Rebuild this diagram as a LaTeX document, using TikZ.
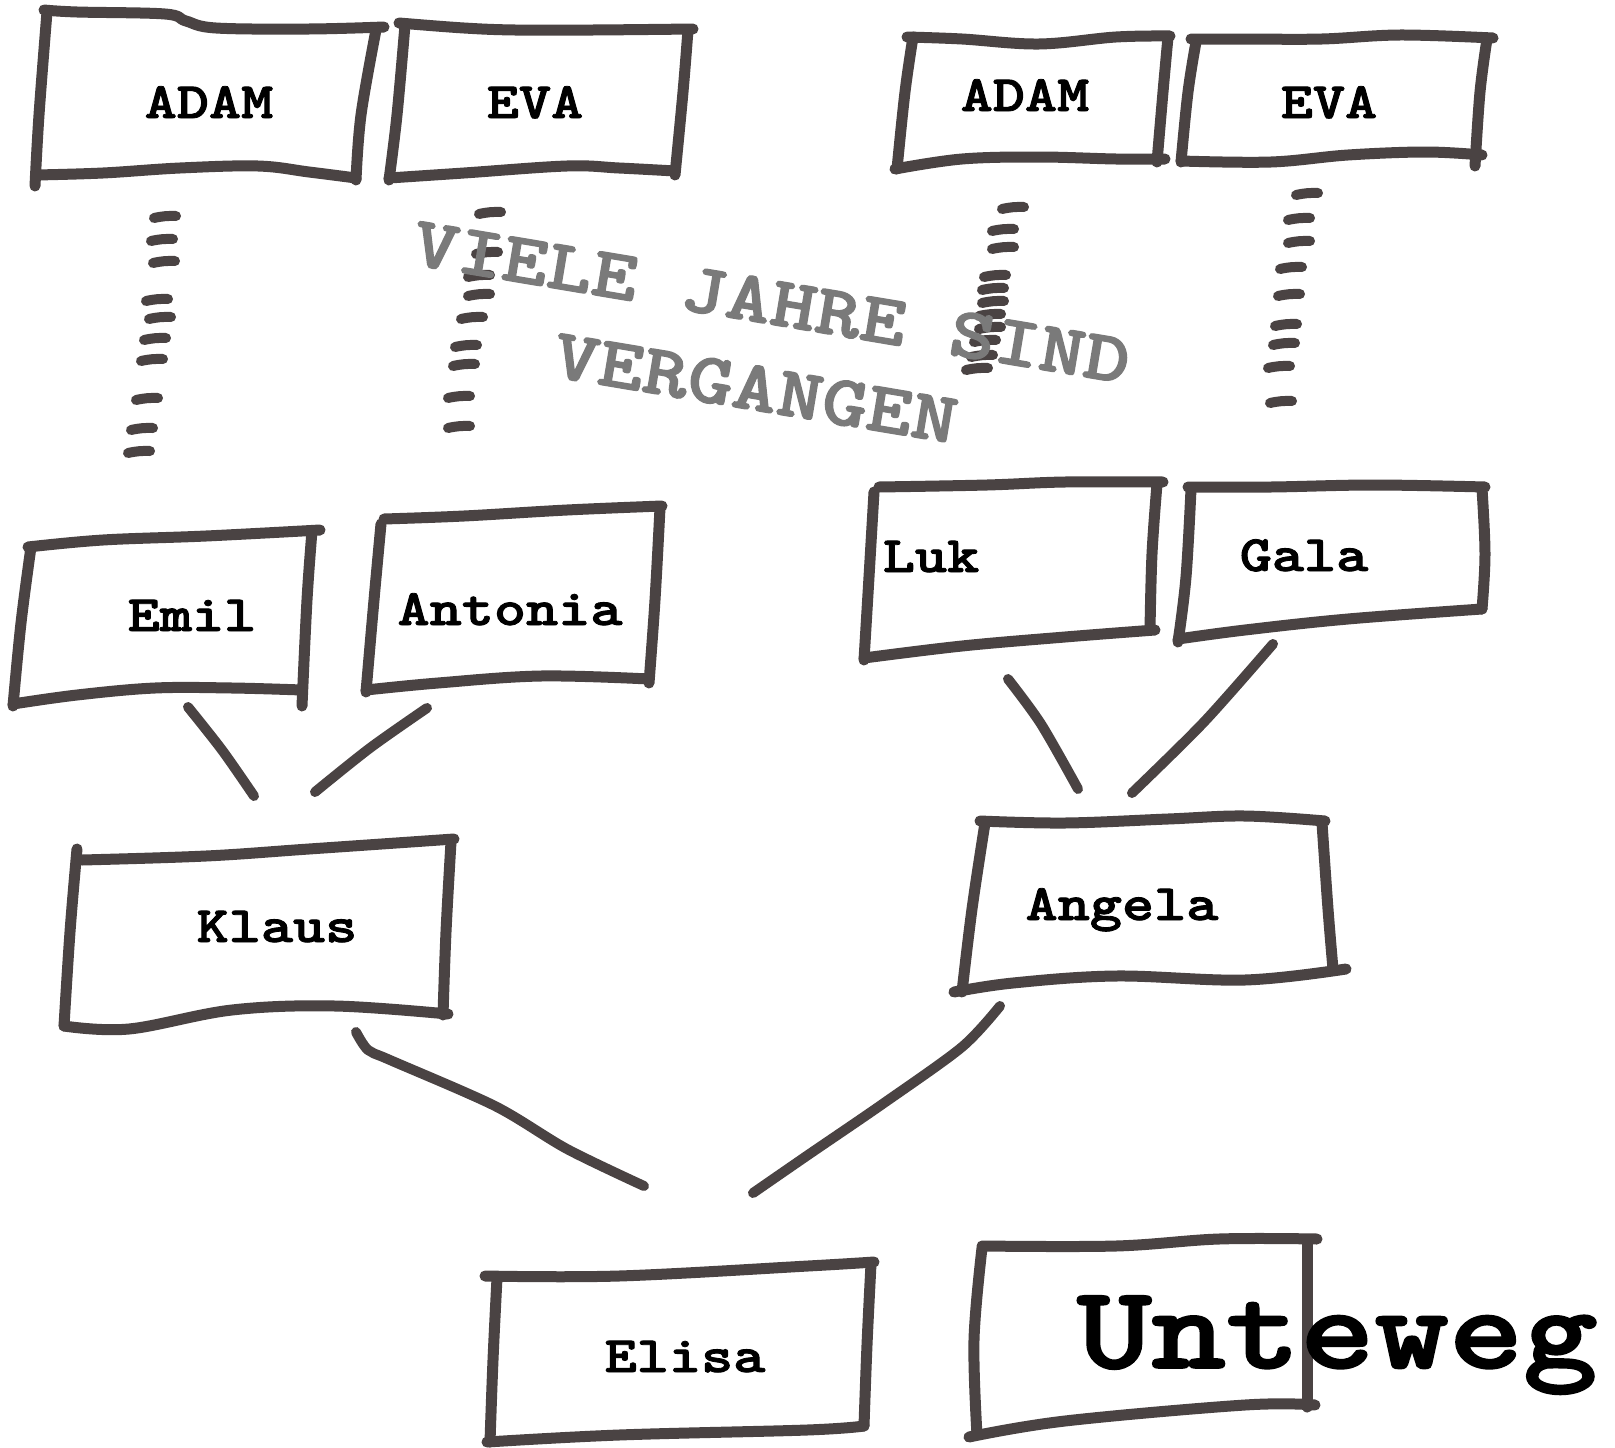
\documentclass[tikz,border=0pt]{standalone}
\usepackage{graphicx}
\usepackage{fontspec}
\newfontfamily\cour{lmmonolt10-bold.otf}[FakeBold=1.6]
\definecolor{ink}{RGB}{74,67,67}
\definecolor{grayt}{RGB}{122,122,122}
\newcommand{\widen}[1]{\scalebox{1.2}[1]{#1}}
\tikzset{
  edge/.style={draw=ink, line width=11pt, line cap=round, line join=round},
  dashmark/.style={draw=ink, line width=10pt, line cap=round},
  conn/.style={draw=ink, line width=10pt, line cap=round, line join=round},
  lbl/.style={font=\cour\fontsize{51}{51}\selectfont, inner sep=0pt, anchor=base, text=black},
  biglbl/.style={font=\cour\fontsize{118}{118}\selectfont, inner sep=0pt, anchor=base west, text=black},
  graylbl/.style={font=\cour\fontsize{72}{72}\selectfont, inner sep=0pt, anchor=base, text=grayt, rotate=-9.5},
}
\begin{document}
\begin{tikzpicture}[x=1pt,y=-1pt]
\useasboundingbox (0,0) rectangle (1615,1448);
\fill[white] (0,0) rectangle (1615,1448);

% ---------- boxes (hand drawn outlines) ----------
% ADAM 1
\draw[edge] plot[smooth,tension=0.6] coordinates {(44,10) (77,12) (165,14) (186,21) (216,28) (309,29) (384,27)};
\draw[edge] plot[smooth,tension=0.6] coordinates {(376,30) (361,115) (356,180)};
\draw[edge] plot[smooth,tension=0.6] coordinates {(36,175) (103,173) (180,168) (258,166) (309,172) (356,178)};
\draw[edge] plot[smooth,tension=0.6] coordinates {(47,12) (39,115) (35,186)};
% EVA 1
\draw[edge] plot[smooth,tension=0.6] coordinates {(399,23) (464,28) (515,30) (593,30) (693,29)};
\draw[edge] plot[smooth,tension=0.6] coordinates {(688,30) (683,92) (675,175)};
\draw[edge] plot[smooth,tension=0.6] coordinates {(389,178) (464,173) (567,166) (619,168) (675,171)};
\draw[edge] plot[smooth,tension=0.6] coordinates {(405,25) (397,115) (389,180)};
% ADAM 2
\draw[edge] plot[smooth,tension=0.6] coordinates {(907,37) (962,39) (1039,44) (1116,37) (1170,36)};
\draw[edge] plot[smooth,tension=0.6] coordinates {(1168,37) (1163,92) (1157,162)};
\draw[edge] plot[smooth,tension=0.6] coordinates {(895,169) (962,159) (1039,157) (1116,159) (1165,159)};
\draw[edge] plot[smooth,tension=0.6] coordinates {(913,37) (905,92) (897,169)};
% EVA 2
\draw[edge] plot[smooth,tension=0.6] coordinates {(1191,39) (1245,39) (1322,39) (1400,35) (1493,38)};
\draw[edge] plot[smooth,tension=0.6] coordinates {(1487,39) (1480,92) (1475,166)};
\draw[edge] plot[smooth,tension=0.6] coordinates {(1181,161) (1271,162) (1348,155) (1426,152) (1482,155)};
\draw[edge] plot[smooth,tension=0.6] coordinates {(1196,42) (1188,92) (1181,162)};
% Emil
\draw[edge] plot[smooth,tension=0.6] coordinates {(28,547) (103,540) (206,536) (320,530)};
\draw[edge] plot[smooth,tension=0.6] coordinates {(312,531) (307,600) (302,706)};
\draw[edge] plot[smooth,tension=0.6] coordinates {(13,704) (77,695) (155,688) (232,688) (302,690)};
\draw[edge] plot[smooth,tension=0.6] coordinates {(31,547) (21,623) (13,706)};
% Antonia
\draw[edge] plot[smooth,tension=0.6] coordinates {(384,519) (464,516) (567,510) (662,506)};
\draw[edge] plot[smooth,tension=0.6] coordinates {(660,508) (655,600) (649,683)};
\draw[edge] plot[smooth,tension=0.6] coordinates {(366,690) (438,683) (541,676) (649,679)};
\draw[edge] plot[smooth,tension=0.6] coordinates {(381,524) (374,600) (366,692)};
% Luk
\draw[edge] plot[smooth,tension=0.6] coordinates {(879,487) (987,485) (1065,482) (1163,482)};
\draw[edge] plot[smooth,tension=0.6] coordinates {(1157,484) (1152,554) (1150,630)};
\draw[edge] plot[smooth,tension=0.6] coordinates {(864,658) (962,646) (1065,637) (1155,630)};
\draw[edge] plot[smooth,tension=0.6] coordinates {(874,492) (869,577) (864,660)};
% Gala
\draw[edge] plot[smooth,tension=0.6] coordinates {(1188,487) (1271,487) (1374,485) (1485,487)};
\draw[edge] plot[smooth,tension=0.6] coordinates {(1482,489) (1485,554) (1482,609)};
\draw[edge] plot[smooth,tension=0.6] coordinates {(1178,639) (1245,630) (1348,619) (1482,609)};
\draw[edge] plot[smooth,tension=0.6] coordinates {(1191,489) (1186,577) (1178,642)};
% Klaus
\draw[edge] plot[smooth,tension=0.6] coordinates {(82,860) (206,856) (309,849) (454,839)};
\draw[edge] plot[smooth,tension=0.6] coordinates {(451,842) (446,932) (443,1015)};
\draw[edge] plot[smooth,tension=0.6] coordinates {(64,1026) (129,1029) (232,1010) (335,1006) (448,1014)};
\draw[edge] plot[smooth,tension=0.6] coordinates {(77,849) (70,932) (64,1026)};
% Angela
\draw[edge] plot[smooth,tension=0.6] coordinates {(980,821) (1065,823) (1168,819) (1245,816) (1325,821)};
\draw[edge] plot[smooth,tension=0.6] coordinates {(1322,823) (1328,909) (1333,969)};
\draw[edge] plot[smooth,tension=0.6] coordinates {(954,992) (1013,983) (1116,976) (1245,980) (1346,969)};
\draw[edge] plot[smooth,tension=0.6] coordinates {(985,823) (972,909) (962,992)};
% Elisa
\draw[edge] plot[smooth,tension=0.6] coordinates {(485,1276) (619,1276) (808,1266) (874,1262)};
\draw[edge] plot[smooth,tension=0.6] coordinates {(871,1264) (867,1345) (864,1426)};
\draw[edge] plot[smooth,tension=0.6] coordinates {(487,1442) (619,1435) (807,1430) (864,1426)};
\draw[edge] plot[smooth,tension=0.6] coordinates {(497,1278) (493,1360) (490,1442)};
% empty box
\draw[edge] plot[smooth,tension=0.6] coordinates {(982,1246) (1116,1246) (1219,1239) (1317,1239)};
\draw[edge] plot[smooth,tension=0.6] coordinates {(1307,1241) (1307,1320) (1307,1407)};
\draw[edge] plot[smooth,tension=0.6] coordinates {(969,1437) (1065,1421) (1245,1405) (1315,1405)};
\draw[edge] plot[smooth,tension=0.6] coordinates {(982,1248) (974,1340) (977,1435)};

% ---------- dotted descent lines ----------
\foreach \x/\y in {165/217,162/240,164/262,157/300,160/318,155/339,152/360,147/399,142/429,139/452}
  \draw[dashmark] ({\x-11},{\y+1}) to[bend left=7] ({\x+11},{\y-1});
\foreach \x/\y in {490/213,487/253,479/276,479/295,472/318,466/346,464/365,459/397,459/427}
  \draw[dashmark] ({\x-11},{\y+1}) to[bend left=7] ({\x+11},{\y-1});
\foreach \x/\y in {1013/208,1003/230,1003/248,995/276,993/289,993/302,990/315,990/328,985/341,982/356,977/369}
  \draw[dashmark] ({\x-11},{\y+1}) to[bend left=7] ({\x+11},{\y-1});
\foreach \x/\y in {1307/194,1299/219,1299/242,1291/268,1289/295,1286/325,1284/344,1279/367,1281/402}
  \draw[dashmark] ({\x-11},{\y+1}) to[bend left=7] ({\x+11},{\y-1});

% ---------- connectors ----------
\coordinate (emilC) at (188,707);
\coordinate (antoniaC) at (427,708);
\coordinate (klausT1) at (254,796);
\coordinate (klausT2) at (315,792);
\coordinate (lukC) at (1008,679);
\coordinate (galaC) at (1273,644);
\coordinate (angelaT1) at (1078,789);
\coordinate (angelaT2) at (1132,793);
\coordinate (klausC) at (356,1032);
\coordinate (angelaC) at (1000,1006);
\coordinate (elisaT1) at (644,1186);
\coordinate (elisaT2) at (753,1193);

\draw[conn] plot[smooth] coordinates {(emilC) (222,750) (klausT1)};
\draw[conn] plot[smooth] coordinates {(antoniaC) (370,748) (klausT2)};
\draw[conn] plot[smooth] coordinates {(lukC) (1041,724) (angelaT1)};
\draw[conn] plot[smooth] coordinates {(galaC) (1204,722) (angelaT2)};
\draw[conn] plot[smooth,tension=0.5] coordinates {(klausC) (368,1050) (390,1060) (495,1106) (567,1149) (elisaT1)};
\draw[conn] plot[smooth,tension=0.5] coordinates {(angelaC) (962,1047) (884,1103) (808,1155) (elisaT2)};

% ---------- labels ----------
\node[lbl] (adam1) at (209,118) {\widen{ADAM}};
\node[lbl] (eva1) at (535,118) {\widen{EVA}};
\node[lbl] (adam2) at (1025,111) {\widen{ADAM}};
\node[lbl] (eva2) at (1329,118) {\widen{EVA}};
\node[lbl] (emil) at (192,631) {\widen{Emil}};
\node[lbl] (antonia) at (510,625) {\widen{Antonia}};
\node[lbl] (luk) at (931,572) {\widen{Luk}};
\node[lbl] (gala) at (1304,571) {\widen{Gala}};
\node[lbl] (klaus) at (277,942) {\widen{Klaus}};
\node[lbl] (angela) at (1122,920) {\widen{Angela}};
\node[lbl] (elisa) at (685,1372) {\widen{Elisa}};
\node[biglbl] (unteweg) at (1077,1368) {\widen{Unteweg}};

\node[graylbl] (viele) at (768,324) {\widen{VIELE JAHRE SIND}};
\node[graylbl] (vergangen) at (752,410) {\widen{VERGANGEN}};
\end{tikzpicture}
\end{document}
